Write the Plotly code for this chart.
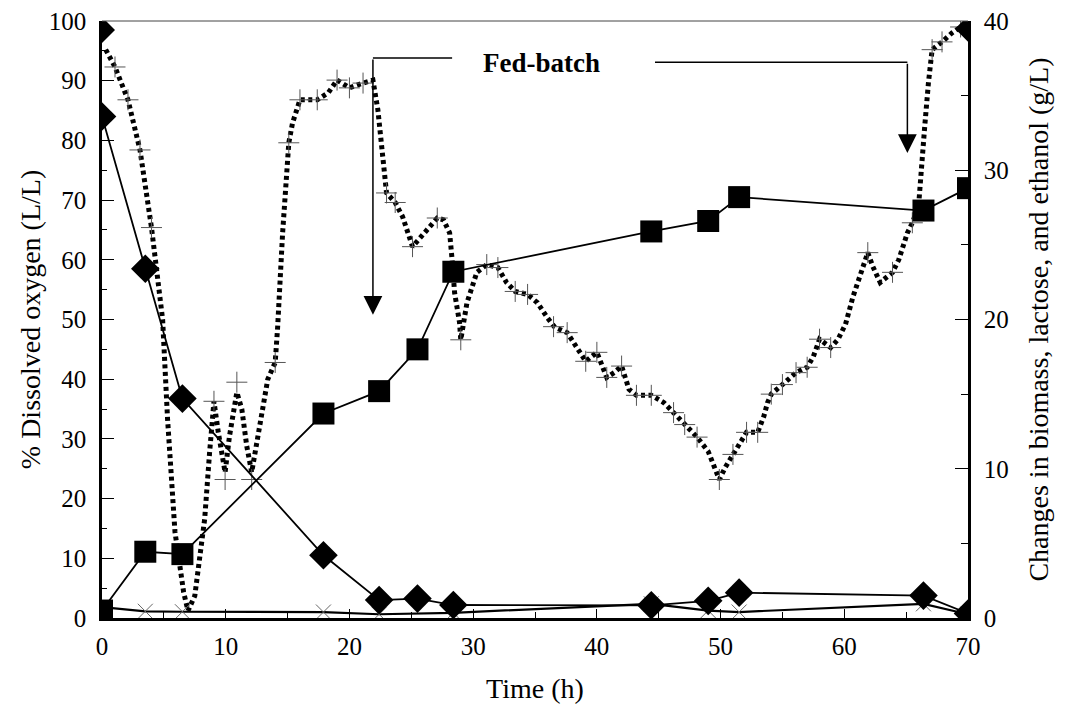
import plotly.graph_objects as go

# ---- Data ----
# Dissolved oxygen (%), left axis
do_time = [0.3, 1.05, 2.1, 3.07, 4.0, 4.9, 5.3, 5.9, 6.6, 6.95, 7.5, 8.3, 8.7, 9.05, 9.4, 9.95,
           10.3, 10.9, 11.3, 11.7, 12.1, 12.8, 13.4, 14.0, 14.2, 14.6, 14.9, 15.1, 15.4, 16.0,
           17.4, 18.3, 19.0, 20.0, 21.1, 21.9, 22.3, 22.6, 22.9, 23.0, 23.7, 24.3, 25.1, 26.0,
           27.1, 27.6, 28.1, 28.3, 28.5, 28.9, 29.0, 29.5, 30.3, 31.1, 32.0, 32.7, 33.4, 34.4,
           35.2, 36.0, 36.6, 37.6, 38.5, 39.1, 40.0, 40.8, 41.4, 42.0, 42.6, 43.2, 44.4, 45.4,
           46.2, 47.1, 48.1, 49.0, 49.5, 49.9, 50.4, 51.0, 51.6, 52.1, 53.0, 53.5, 53.8, 54.1,
           55.0, 56.1, 57.0, 57.5, 58.0, 58.9, 59.5, 60.1, 60.7, 61.4, 61.9, 62.3, 62.9, 63.9,
           64.4, 65.1, 65.5, 66.0, 66.3, 66.5, 66.8, 67.1, 67.9, 68.7, 69.4, 69.8]
do_value = [95.2, 92.3, 86.8, 78.4, 65.4, 50.0, 33.3, 14.4, 4.3, 1.2, 3.7, 16.6, 27.8, 36.3, 31.1, 24.4,
            30.4, 37.8, 35.0, 28.8, 24.4, 33.3, 40.0, 42.8, 48.8, 64.5, 73.9, 79.6, 82.9, 86.8,
            86.8, 88.0, 90.1, 88.8, 89.6, 90.1, 85.1, 79.6, 74.6, 71.2, 69.6, 67.2, 62.2, 64.5,
            67.0, 66.7, 64.5, 60.0, 54.5, 49.5, 46.6, 52.8, 57.9, 59.2, 58.7, 56.2, 54.7, 54.2,
            52.8, 50.3, 48.7, 47.8, 45.0, 43.0, 44.5, 40.3, 41.1, 42.2, 38.3, 37.3, 37.3, 36.1,
            34.4, 32.4, 30.3, 27.9, 25.4, 23.2, 25.3, 27.4, 29.6, 31.1, 31.1, 33.8, 36.1, 37.5,
            39.1, 41.1, 42.0, 43.8, 46.7, 45.3, 46.7, 49.2, 53.8, 57.9, 61.2, 58.9, 56.2, 57.9,
            60.0, 64.5, 66.2, 68.9, 75.6, 82.3, 89.6, 95.2, 96.5, 98.0, 99.0, 98.7]

# DO replicate points drawn as "+" marks
cross_time = [1.05, 2.1, 3.07, 4.0, 9.05, 9.95, 10.9, 12.1, 14.0, 15.1, 16.0, 17.4, 19.0, 20.0, 21.1,
              23.0, 23.7, 25.1, 27.1, 29.0, 31.1, 32.0, 33.4, 34.4, 36.5, 37.6, 39.1, 40.0, 40.8,
              42.0, 43.2, 44.4, 46.2, 47.1, 48.1, 49.9, 51.0, 52.1, 53.0, 54.1, 55.0, 56.1, 57.0,
              58.0, 58.9, 61.9, 63.9, 65.5, 67.1, 67.9, 69.4]
cross_value = [92.3, 86.8, 78.4, 65.4, 36.3, 23.2, 39.5, 23.2, 42.8, 79.6, 86.8, 86.8, 90.1, 88.8, 89.6,
               71.2, 69.6, 62.2, 67.0, 46.6, 59.2, 58.7, 54.7, 54.2, 48.8, 47.8, 43.0, 44.5, 40.3,
               42.2, 37.3, 37.3, 34.4, 32.4, 30.3, 23.2, 27.4, 31.1, 31.1, 37.5, 39.1, 41.1, 42.0,
               46.7, 45.3, 61.2, 57.9, 66.2, 95.2, 96.5, 99.0]

# DO end points (diamonds)
do_end_time = [0, 70]
do_end_value = [98.5, 98.7]

# Right axis (g/L)
sample_time = [0, 3.5, 6.5, 17.9, 22.4, 25.5, 28.4, 44.4, 49.0, 51.5, 66.4, 70]
biomass = [0.5, 4.44, 4.28, 13.7, 15.2, 18.0, 23.2, 25.9, 26.6, 28.2, 27.3, 28.8]
lactose = [33.6, 23.4, 14.7, 4.2, 1.2, 1.3, 0.87, 0.85, 1.15, 1.7, 1.5, 0.3]
ethanol_time = [0, 3.5, 6.5, 17.9, 22.4, 28.4, 44.4, 49.0, 51.5, 66.4, 70]
ethanol = [0.73, 0.45, 0.42, 0.4, 0.25, 0.35, 0.95, 0.5, 0.4, 0.95, 0.25]

x_ticks = [0, 10, 20, 30, 40, 50, 60, 70]

# Annotation geometry (axis units)
arrow1_x, arrow1_top, arrow1_tip = 21.9, 93.8, 50.8
arrow2_x, arrow2_top, arrow2_tip = 65.1, 93.1, 77.9
line1_end = 28.3
line2_start = 44.7
label_x, label_y = 35.5, 93.0

FONT = "'Liberation Serif', 'Times New Roman', 'DejaVu Serif', serif"

fig = go.Figure()

fig.add_trace(go.Scatter(x=do_time, y=do_value, mode="lines",
                         line=dict(color="black", width=5, dash="4px,3.5px"),
                         yaxis="y", hoverinfo="skip"))
fig.add_trace(go.Scatter(x=cross_time, y=cross_value, mode="markers",
                         marker=dict(symbol="cross-thin", size=15, line=dict(color="#555", width=1)),
                         yaxis="y"))
fig.add_trace(go.Scatter(x=do_end_time, y=do_end_value, mode="markers",
                         marker=dict(symbol="diamond", size=20, color="black"), yaxis="y"))

fig.add_trace(go.Scatter(x=ethanol_time, y=ethanol, mode="lines+markers",
                         line=dict(color="black", width=2.2),
                         marker=dict(symbol="x-thin", size=15, line=dict(color="#666", width=1)),
                         yaxis="y2"))
fig.add_trace(go.Scatter(x=sample_time, y=lactose, mode="lines+markers",
                         line=dict(color="black", width=1.8),
                         marker=dict(symbol="diamond", size=22, color="black"),
                         yaxis="y2"))
fig.add_trace(go.Scatter(x=sample_time, y=biomass, mode="lines+markers",
                         line=dict(color="black", width=1.8),
                         marker=dict(symbol="square", size=22, color="black"),
                         yaxis="y2"))

# Fed-batch annotation lines and arrows
fig.add_shape(type="line", xref="x", yref="y", x0=arrow1_x, x1=line1_end, y0=arrow1_top, y1=arrow1_top,
              line=dict(color="black", width=1.5))
fig.add_shape(type="line", xref="x", yref="y", x0=line2_start, x1=arrow2_x, y0=arrow2_top, y1=arrow2_top,
              line=dict(color="black", width=1.5))
for ax_, top, tip in [(arrow1_x, arrow1_top, arrow1_tip), (arrow2_x, arrow2_top, arrow2_tip)]:
    fig.add_annotation(x=ax_, y=tip, ax=ax_, ay=top, xref="x", yref="y", axref="x", ayref="y",
                       showarrow=True, arrowhead=2, arrowsize=2.5, arrowwidth=1.5, arrowcolor="black",
                       text="")
fig.add_annotation(x=label_x, y=label_y, xref="x", yref="y", text="<b>Fed-batch</b>", showarrow=False,
                   font=dict(family=FONT, size=27, color="black"))
# top frame
fig.add_shape(type="line", xref="paper", yref="paper", x0=0, x1=1, y0=1, y1=1,
              line=dict(color="#444", width=1))

tickfont = dict(family=FONT, size=25, color="black")
titlefont = dict(family=FONT, size=28, color="black")

fig.update_layout(
    width=1058, height=697,
    margin=dict(l=94, r=98, t=13, b=87, autoexpand=False),
    paper_bgcolor="white", plot_bgcolor="white",
    font=dict(family=FONT, color="black"),
    showlegend=False,
    xaxis=dict(range=[0, 70], tickvals=x_ticks, ticks="inside", ticklen=9, tickwidth=1, tickcolor="black",
               minor=dict(dtick=5, ticks="inside", ticklen=6, tickcolor="black"),
               showline=True, linewidth=2.5, linecolor="black", showgrid=False, zeroline=False,
               automargin=False, ticklabelstandoff=4, ticklabeloverflow="allow",
               tickfont=tickfont, title=dict(text="Time (h)", font=titlefont, standoff=20)),
    yaxis=dict(range=[0, 100], dtick=10, ticks="inside", ticklen=12, tickwidth=1, tickcolor="black",
               minor=dict(dtick=5, ticks="inside", ticklen=5, tickcolor="black"),
               showline=True, linewidth=2.5, linecolor="black", showgrid=False, zeroline=False,
               automargin=False, ticklabelstandoff=8, ticklabeloverflow="allow",
               tickfont=tickfont, title=dict(text="% Dissolved oxygen (L/L)", font=titlefont, standoff=0)),
    yaxis2=dict(range=[0, 40], dtick=10, ticks="inside", ticklen=13, tickwidth=1, tickcolor="black",
                minor=dict(dtick=5, ticks="inside", ticklen=7, tickcolor="black"),
                overlaying="y", side="right", anchor="x",
                showline=True, linewidth=2.5, linecolor="black", showgrid=False, zeroline=False,
                automargin=False, ticklabelstandoff=8, ticklabeloverflow="allow",
                tickfont=tickfont,
                title=dict(text="Changes in biomass, lactose, and ethanol (g/L)", font=titlefont, standoff=21)),
)

fig.write_html("out.html")
